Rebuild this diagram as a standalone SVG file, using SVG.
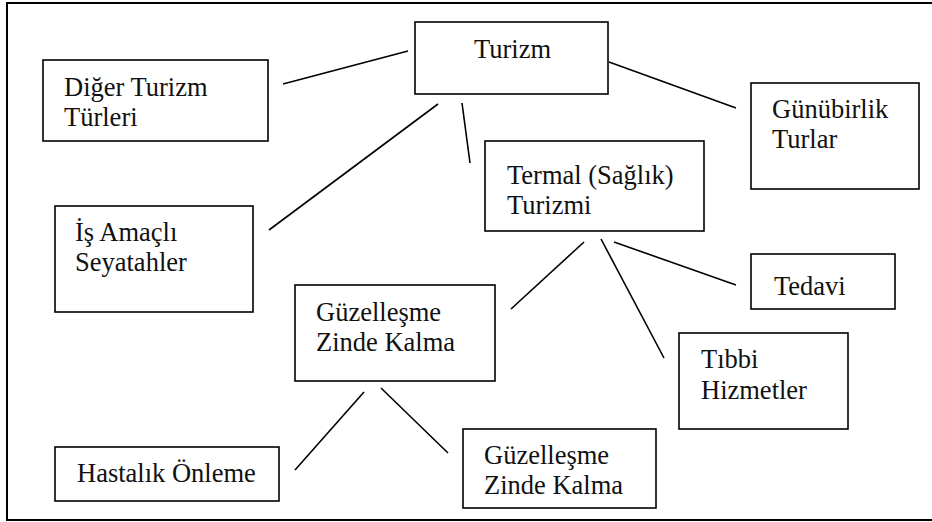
<svg xmlns="http://www.w3.org/2000/svg" width="932" height="522" viewBox="0 0 932 522">
<style>
.box{fill:#fff;stroke:#000;stroke-width:1.6}
.t{font-family:"Liberation Serif","Times New Roman","DejaVu Serif",serif;font-size:26.5px;fill:#111}
.c line{stroke:#000;stroke-width:1.6}
</style>
<rect x="0" y="0" width="932" height="522" fill="#fff"/>
<rect x="7" y="3" width="935" height="517" fill="none" stroke="#000" stroke-width="2"/>
<g class="c" id="connectors">
<line x1="408" y1="51" x2="283" y2="84"/>
<line x1="609" y1="62" x2="736" y2="108"/>
<line x1="438" y1="104" x2="269" y2="230"/>
<line x1="462" y1="103" x2="470" y2="163"/>
<line x1="584" y1="242" x2="511" y2="309"/>
<line x1="601" y1="239" x2="664" y2="358"/>
<line x1="614" y1="242" x2="736" y2="285"/>
<line x1="364" y1="392" x2="295" y2="470"/>
<line x1="381" y1="388" x2="448" y2="453"/>
</g>
<g id="turizm"><rect class="box" x="415" y="22" width="193" height="72"/><text class="t" x="474" y="58">Turizm</text></g>
<g id="diger"><rect class="box" x="43" y="60" width="225" height="81"/><text class="t" x="64" y="96">Diğer Turizm</text><text class="t" x="64" y="126">Türleri</text></g>
<g id="gunubirlik"><rect class="box" x="751" y="83" width="168" height="106"/><text class="t" x="772" y="118">Günübirlik</text><text class="t" x="772" y="148">Turlar</text></g>
<g id="termal"><rect class="box" x="485" y="141" width="219" height="90"/><text class="t" x="507" y="184">Termal (Sağlık)</text><text class="t" x="507" y="214">Turizmi</text></g>
<g id="is"><rect class="box" x="55" y="206" width="198" height="106"/><text class="t" x="75" y="241">İş Amaçlı</text><text class="t" x="75" y="271">Seyatahler</text></g>
<g id="guz1"><rect class="box" x="295" y="285" width="200" height="96"/><text class="t" x="316" y="321">Güzelleşme</text><text class="t" x="316" y="351">Zinde Kalma</text></g>
<g id="tedavi"><rect class="box" x="751" y="254" width="144" height="55"/><text class="t" x="774" y="295">Tedavi</text></g>
<g id="tibbi"><rect class="box" x="679" y="333" width="169" height="96"/><text class="t" x="701" y="368">Tıbbi</text><text class="t" x="701" y="399">Hizmetler</text></g>
<g id="hastalik"><rect class="box" x="55" y="447" width="224" height="54"/><text class="t" x="77" y="482">Hastalık Önleme</text></g>
<g id="guz2"><rect class="box" x="463" y="429" width="193" height="79"/><text class="t" x="484" y="464">Güzelleşme</text><text class="t" x="484" y="494">Zinde Kalma</text></g>
</svg>
